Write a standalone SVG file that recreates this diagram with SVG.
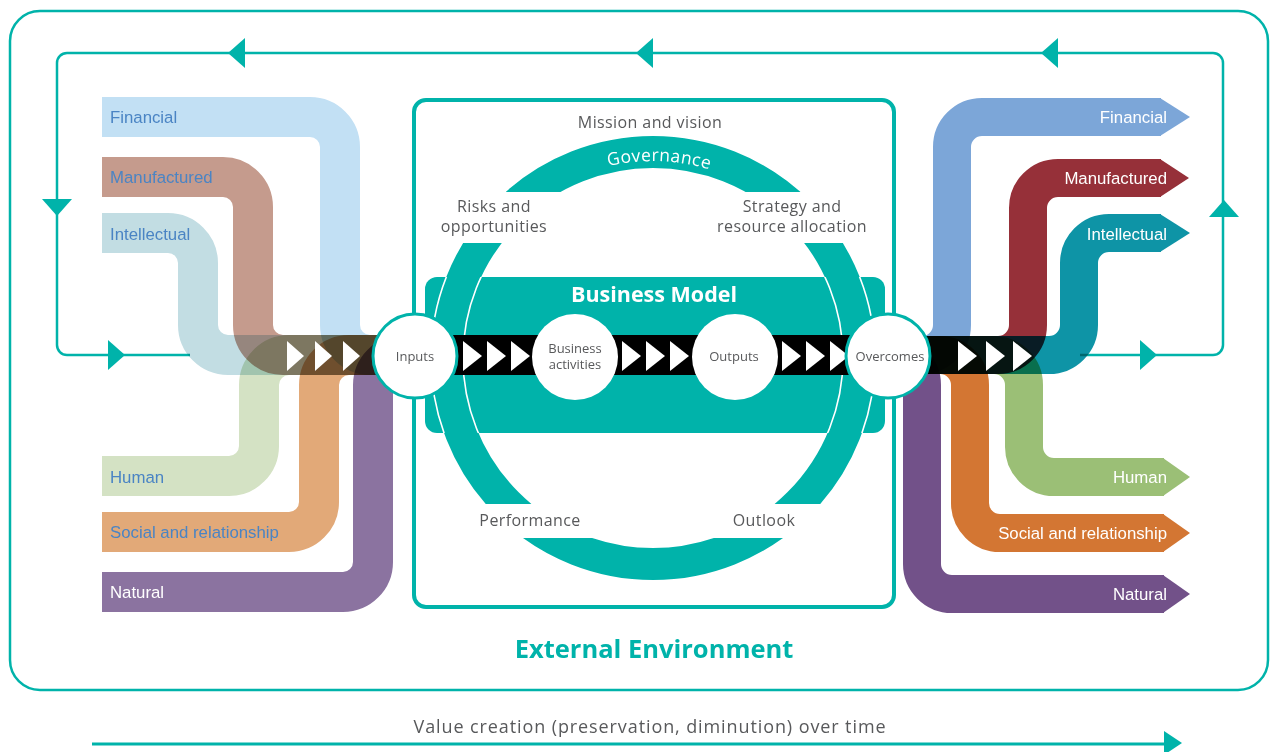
<svg xmlns="http://www.w3.org/2000/svg" width="1271" height="752" viewBox="0 0 1271 752">
<style>
.teal{fill:#00B3AA}
.tl{fill:none;stroke:#00B3AA;stroke-width:2.5}
.band{fill:none;stroke-width:40;mix-blend-mode:multiply}
.rb{mix-blend-mode:multiply}
.rb path{fill:none;stroke-width:38}
.cap{font-family:"Liberation Sans",Arial,sans-serif;font-size:16.8px}
.capL{fill:#4A84C4}
.capW{fill:#fff}
.lbl{font-family:"Open Sans",sans-serif;font-size:16px;fill:#58595B;letter-spacing:0.4px;text-anchor:middle}
.cl{font-family:"Open Sans",sans-serif;font-size:13px;fill:#58595B;text-anchor:middle}
.chev{fill:#fff}
.circ{fill:#fff;stroke:#00B3AA;stroke-width:3}
</style>
<defs>
<clipPath id="ringClip">
<rect x="400" y="120" width="510" height="72"/>
<rect x="400" y="243" width="510" height="261"/>
<rect x="400" y="538" width="510" height="60"/>
</clipPath>
<clipPath id="bmClip"><rect x="425" y="277" width="460" height="156" rx="12"/></clipPath>
<path id="govArc" d="M456,358 A197,197 0 0 1 850,358"/>
</defs>

<!-- outer frame -->
<rect id="external-environment" x="10" y="11" width="1258" height="679" rx="30" fill="none" stroke="#00B3AA" stroke-width="2.5"/>

<g id="connectors">
<!-- feedback loop -->
<path class="tl" d="M190,355 H67 A10,10 0 0 1 57,345 V63 A10,10 0 0 1 67,53 H1213 A10,10 0 0 1 1223,63 V345 A10,10 0 0 1 1213,355 H1080"/>
<polygon class="teal" points="228,53 245,38 245,68"/>
<polygon class="teal" points="636,53 653,38 653,68"/>
<polygon class="teal" points="1041,53 1058,38 1058,68"/>
<polygon class="teal" points="42,199 72,199 57,216"/>
<polygon class="teal" points="108,340 108,370 125,355"/>
<polygon class="teal" points="1209,217 1239,217 1224,200"/>
<polygon class="teal" points="1140,340 1140,370 1157,355"/>
<!-- bottom time arrow -->
<line x1="92" y1="744" x2="1168" y2="744" stroke="#00B3AA" stroke-width="3"/>
<polygon class="teal" points="1164,731 1182,743 1164,755"/>
</g>

<!-- business model core -->
<g id="business-model">
<rect x="414" y="100" width="480" height="507" rx="12" fill="#fff" stroke="#00B3AA" stroke-width="4"/>
<rect x="425" y="277" width="460" height="156" rx="12" fill="#00B3AA"/>
<circle cx="653" cy="358" r="206" fill="none" stroke="#00B3AA" stroke-width="32" clip-path="url(#ringClip)"/>
<g clip-path="url(#bmClip)" fill="none" stroke="#fff" stroke-width="1.6">
<circle cx="653" cy="358" r="222"/>
<circle cx="653" cy="358" r="190"/>
</g>
<text font-family="'Open Sans',sans-serif" font-size="17.5px" fill="#fff" letter-spacing="0.4"><textPath href="#govArc" startOffset="51%" text-anchor="middle">Governance</textPath></text>
<text class="lbl" x="650" y="128">Mission and vision</text>
<text class="lbl" x="494" y="212">Risks and</text>
<text class="lbl" x="494" y="232">opportunities</text>
<text class="lbl" x="792" y="212">Strategy and</text>
<text class="lbl" x="792" y="232">resource allocation</text>
<text class="lbl" x="530" y="526">Performance</text>
<text class="lbl" x="764" y="526">Outlook</text>
<text x="654" y="302" font-family="'Open Sans',sans-serif" font-weight="bold" font-size="21.5px" fill="#fff" text-anchor="middle">Business Model</text>
<rect x="415" y="335" width="473" height="40" fill="#000"/>
<polygon class="chev" points="463,341 482,356 463,371"/>
<polygon class="chev" points="487,341 506,356 487,371"/>
<polygon class="chev" points="511,341 530,356 511,371"/>
<polygon class="chev" points="622,341 641,356 622,371"/>
<polygon class="chev" points="646,341 665,356 646,371"/>
<polygon class="chev" points="670,341 689,356 670,371"/>
<polygon class="chev" points="782,341 801,356 782,371"/>
<polygon class="chev" points="806,341 825,356 806,371"/>
<polygon class="chev" points="830,341 849,356 830,371"/>
</g>

<!-- input capitals -->
<g id="inputs-capitals">
<path class="band" stroke="#C2E0F4" d="M102,117 H310 A30,30 0 0 1 340,147 V325 A30,30 0 0 0 370,355 H415"/>
<path class="band" stroke="#C59B8D" d="M102,177 H223 A30,30 0 0 1 253,207 V325 A30,30 0 0 0 283,355 H415"/>
<path class="band" stroke="#C2DDE3" d="M102,233 H168 A30,30 0 0 1 198,263 V325 A30,30 0 0 0 228,355 H415"/>
<path class="band" stroke="#D4E2C4" d="M102,476 H229 A30,30 0 0 0 259,446 V385 A30,30 0 0 1 289,355 H415"/>
<path class="band" stroke="#E2A978" d="M102,532 H289 A30,30 0 0 0 319,502 V385 A30,30 0 0 1 349,355 H415"/>
<path class="band" stroke="#8B73A0" d="M102,592 H343 A30,30 0 0 0 373,562 V385 A30,30 0 0 1 403,355 H415"/>
<polygon class="chev" points="287,341 304,356 287,371"/>
<polygon class="chev" points="315,341 332,356 315,371"/>
<polygon class="chev" points="343,341 360,356 343,371"/>
<text class="cap capL" x="110" y="123">Financial</text>
<text class="cap capL" x="110" y="183">Manufactured</text>
<text class="cap capL" x="110" y="240">Intellectual</text>
<text class="cap capL" x="110" y="483">Human</text>
<text class="cap capL" x="110" y="538">Social and relationship</text>
<text class="cap capW" x="110" y="598">Natural</text>
</g>

<!-- output capitals -->
<g id="outcomes-capitals">
<g class="rb"><path stroke="#7CA6D8" d="M888,355 H922 A30,30 0 0 0 952,325 V147 A30,30 0 0 1 982,117 H1161"/><polygon fill="#7CA6D8" points="1160,98 1190,117 1160,136"/></g>
<g class="rb"><path stroke="#963039" d="M888,355 H998 A30,30 0 0 0 1028,325 V208 A30,30 0 0 1 1058,178 H1161"/><polygon fill="#963039" points="1160,159 1189,178 1160,197"/></g>
<g class="rb"><path stroke="#0E94A6" d="M888,355 H1049 A30,30 0 0 0 1079,325 V263 A30,30 0 0 1 1109,233 H1161"/><polygon fill="#0E94A6" points="1160,214 1190,233 1160,252"/></g>
<g class="rb"><path stroke="#9BBF76" d="M888,355 H994 A30,30 0 0 1 1024,385 V447 A30,30 0 0 0 1054,477 H1164"/><polygon fill="#9BBF76" points="1163,458 1190,477 1163,496"/></g>
<g class="rb"><path stroke="#D37633" d="M888,355 H940 A30,30 0 0 1 970,385 V503 A30,30 0 0 0 1000,533 H1164"/><polygon fill="#D37633" points="1163,514 1190,533 1163,552"/></g>
<g class="rb"><path stroke="#725189" d="M888,355 H892 A30,30 0 0 1 922,385 V564 A30,30 0 0 0 952,594 H1164"/><polygon fill="#725189" points="1163,575 1190,594 1163,613"/></g>
<polygon class="chev" points="958,341 977,356 958,371"/>
<polygon class="chev" points="986,341 1005,356 986,371"/>
<polygon class="chev" points="1013,341 1032,356 1013,371"/>
<text class="cap capW" x="1167" y="123" text-anchor="end">Financial</text>
<text class="cap capW" x="1167" y="184" text-anchor="end">Manufactured</text>
<text class="cap capW" x="1167" y="240" text-anchor="end">Intellectual</text>
<text class="cap capW" x="1167" y="483" text-anchor="end">Human</text>
<text class="cap capW" x="1167" y="539" text-anchor="end">Social and relationship</text>
<text class="cap capW" x="1167" y="600" text-anchor="end">Natural</text>
</g>

<g id="node-inputs"><circle class="circ" cx="415" cy="356" r="42"/><text class="cl" x="415" y="361">Inputs</text></g>
<g id="node-business-activities"><circle cx="575" cy="357" r="43" fill="#fff"/><text class="cl" x="575" y="353">Business</text><text class="cl" x="575" y="369">activities</text></g>
<g id="node-outputs"><circle cx="735" cy="357" r="43" fill="#fff"/><text class="cl" x="734" y="361">Outputs</text></g>
<g id="node-outcomes"><circle class="circ" cx="888" cy="356" r="42"/><text class="cl" x="890" y="361">Overcomes</text></g>

<text x="654" y="658" font-family="'Open Sans',sans-serif" font-weight="bold" font-size="25.5px" fill="#00B3AA" text-anchor="middle">External Environment</text>
<text x="650" y="733" font-family="'Open Sans',sans-serif" font-size="18px" letter-spacing="0.9" fill="#58595B" text-anchor="middle">Value creation (preservation, diminution) over time</text>
</svg>
